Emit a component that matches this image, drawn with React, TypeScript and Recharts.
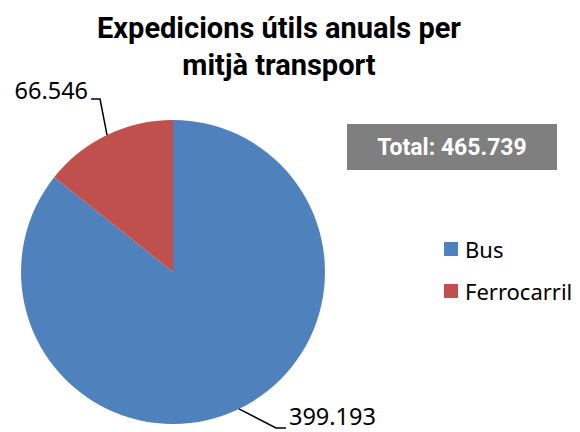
import { PieChart, Pie, Cell } from 'recharts'

const categories = ['Bus', 'Ferrocarril']
const values = [399193, 66546]
const valueLabels = ['399.193', '66.546']
const colors = ['#4f81bd', '#c0504d']
const totalLabel = 'Total: 465.739'
const titleLines = ['Expedicions útils anuals per', 'mitjà transport']

const data = categories.map((name, i) => ({ name, value: values[i] }))

const RAD = Math.PI / 180

// leader line offsets from the slice edge, per slice
const elbows = [
  { dx: 37, dy: 19, hx: 10, ty: -12 },
  { dx: -7, dy: -36, hx: -9, ty: -9 },
]

function renderLabel(props: any) {
  const { cx, cy, midAngle, outerRadius, index } = props
  const ex = cx + outerRadius * Math.cos(-midAngle * RAD)
  const ey = cy + outerRadius * Math.sin(-midAngle * RAD)
  const e = elbows[index]
  const bx = ex + e.dx
  const by = ey + e.dy
  const tx = bx + e.hx
  const right = e.hx > 0
  return (
    <g>
      <polyline points={`${ex},${ey} ${bx},${by} ${tx},${by}`} fill="none" stroke="#000" strokeWidth={1.5} />
      <text
        x={tx + (right ? 3 : -3)}
        y={by + e.ty}
        textAnchor={right ? 'start' : 'end'}
        dominantBaseline="central"
        fontFamily="'Noto Sans', sans-serif"
        fontSize={23.5}
        fill="#000"
      >
        {valueLabels[index]}
      </text>
    </g>
  )
}

export default function App() {
  return (
    <div style={{ position: 'fixed', left: 0, top: 0, width: 580, height: 432, background: '#fff' }}>
      <PieChart width={580} height={432} margin={{ top: 0, right: 0, bottom: 0, left: 0 }} style={{ position: 'absolute', left: 0, top: 0 }}>
        <Pie
          data={data}
          dataKey="value"
          nameKey="name"
          cx={173}
          cy={272}
          outerRadius={152}
          startAngle={90}
          endAngle={-270}
          stroke="none"
          label={renderLabel}
          labelLine={false}
          isAnimationActive={false}
        >
          {data.map((d, i) => <Cell key={d.name} fill={colors[i]} />)}
        </Pie>
      </PieChart>
      <div
        style={{
          position: 'absolute', left: 0, top: 10, width: 558, textAlign: 'center',
          fontFamily: 'Roboto, sans-serif', fontWeight: 700, fontSize: 29, lineHeight: '37px', color: '#000',
        }}
      >
        {titleLines.map((t) => <div key={t}>{t}</div>)}
      </div>
      <div
        style={{
          position: 'absolute', left: 347, top: 124, width: 210, height: 46, background: '#7f7f7f',
          color: '#fff', fontFamily: 'Roboto, sans-serif', fontWeight: 700, fontSize: 23,
          display: 'flex', alignItems: 'center', justifyContent: 'center',
        }}
      >
        {totalLabel}
      </div>
      <div style={{ position: 'absolute', left: 444, top: 228, fontFamily: "'Noto Sans', sans-serif", fontSize: 22, color: '#000' }}>
        {categories.map((c, i) => (
          <div key={c} style={{ display: 'flex', alignItems: 'center', height: 42 }}>
            <span style={{ width: 14, height: 14, background: colors[i], display: 'inline-block', marginRight: 7 }} />
            <span>{c}</span>
          </div>
        ))}
      </div>
    </div>
  )
}
